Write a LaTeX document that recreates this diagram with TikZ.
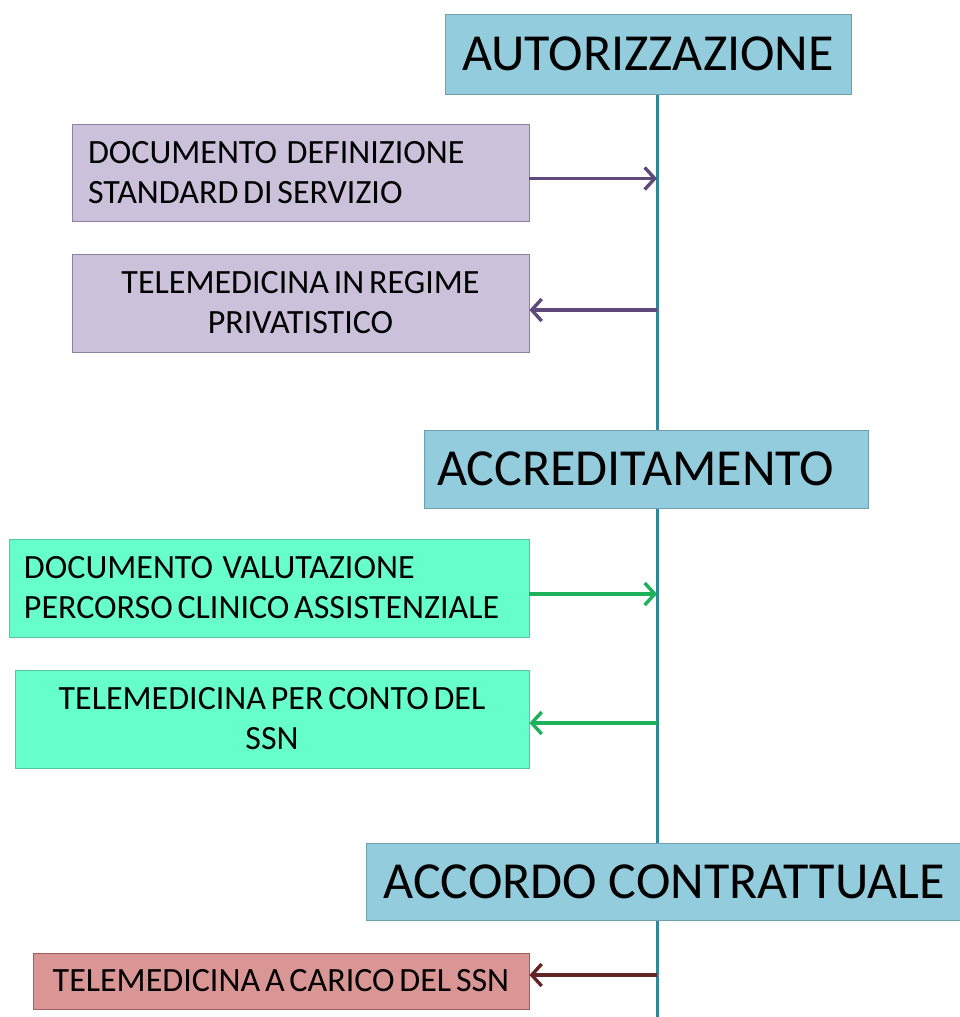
\documentclass[tikz,border=0pt]{standalone}
\usepackage{fontspec}
\setmainfont{Carlito}
\usepackage{xcolor}
\usepackage{tikz}
\usetikzlibrary{backgrounds}
\usetikzlibrary{arrows.meta}
\definecolor{kopf}{HTML}{93CDDD}
\definecolor{kopfrand}{HTML}{6F9FAE}
\definecolor{achse}{HTML}{31859C}
\definecolor{lila}{HTML}{CCC1DA}
\definecolor{lilarand}{HTML}{8C80A0}
\definecolor{lilapfeil}{HTML}{5F497A}
\definecolor{gruen}{HTML}{66FFCC}
\definecolor{gruenrand}{HTML}{55C79E}
\definecolor{gruenpfeil}{HTML}{1DB15B}
\definecolor{rosa}{HTML}{D99694}
\definecolor{rosarand}{HTML}{9C5F5D}
\definecolor{rosapfeil}{HTML}{632523}
\tikzset{
  Stufe/.style={draw=kopfrand, fill=kopf, inner sep=0pt, inner xsep=#1,
    font=\fontsize{26}{30}\selectfont, text=black}, % Kopfkaesten
  Kasten/.style={fill=#1, draw=#1rand, inner sep=0pt, text=black,
    font=\fontsize{17}{20}\selectfont,
    execute at begin node={\spaceskip=2.4pt\xspaceskip=2.4pt\relax}}, % Textkaesten, enge Wortabstaende
  Pfeil/.style={#1, line width=1.7pt,
    -{Straight Barb[length=5pt,width=11pt]}}, % Pfeile
  Zeitachse/.style={achse, line width=1.5pt}
}

\begin{document}
\begin{tikzpicture}[x=0.5pt, y=-0.5pt]
\useasboundingbox (0,0) rectangle (959,1017);

%Stufen
\node[Stufe=0pt, minimum width=203pt, minimum height=40pt]
  (autor) at (648,54) {AUTORIZZAZIONE};
\node[Stufe=6.5pt, text width=209pt, align=left, minimum height=39pt]
  (accred) at (646,469) {ACCREDITAMENTO};
\node[Stufe=0pt, minimum width=298pt, minimum height=38.5pt]
  (accordo) at (664,881.5) {ACCORDO CONTRATTUALE};
\coordinate (achse) at (657,0);
\coordinate (ende) at (657,1017);

%Kaesten
\node[Kasten=lila, inner xsep=8pt, text width=212.5pt, align=left,
  minimum height=48.5pt] (doc1) at (300.5,172.5)
  {DOCUMENTO~ DEFINIZIONE\\STANDARD DI SERVIZIO};
\node[Kasten=lila, text width=228.5pt, align=center,
  minimum height=49pt] (tele1) at (300.5,303)
  {TELEMEDICINA IN REGIME\\PRIVATISTICO};
\node[Kasten=gruen, inner xsep=7.5pt, text width=245pt, align=left,
  minimum height=49pt] (doc2) at (269,588)
  {DOCUMENTO~ VALUTAZIONE\\PERCORSO CLINICO ASSISTENZIALE};
\node[Kasten=gruen, text width=257pt, align=center,
  minimum height=49pt] (tele2) at (272,719)
  {TELEMEDICINA PER CONTO DEL\\SSN};
\node[Kasten=rosa, text width=248pt, align=center,
  minimum height=28pt] (tele3) at (281,981)
  {TELEMEDICINA A CARICO DEL SSN};

%Achse
\begin{scope}[on background layer]
\draw[Zeitachse] (autor.south -| achse) -- (ende);
\end{scope}

%Pfeile
\draw[Pfeil=lilapfeil] ([yshift=-3pt]doc1.east) -- ([yshift=-3pt]doc1.east -| achse);
\draw[Pfeil=lilapfeil] ([yshift=-3.5pt]tele1.east -| achse) -- ([yshift=-3.5pt]tele1.east);
\draw[Pfeil=gruenpfeil] ([yshift=-3pt]doc2.east) -- ([yshift=-3pt]doc2.east -| achse);
\draw[Pfeil=gruenpfeil] ([yshift=-2pt]tele2.east -| achse) -- ([yshift=-2pt]tele2.east);
\draw[Pfeil=rosapfeil] ([yshift=3pt]tele3.east -| achse) -- ([yshift=3pt]tele3.east);

\end{tikzpicture}
\end{document}
